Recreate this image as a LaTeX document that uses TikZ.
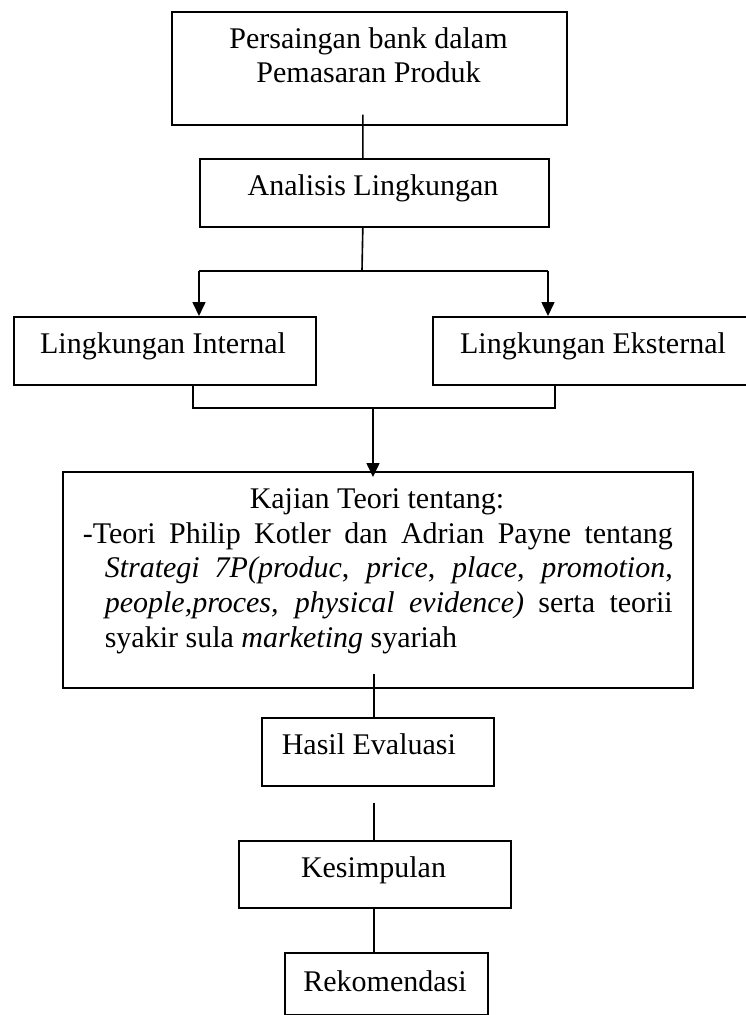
\documentclass[tikz,border=0pt]{standalone}
\usepackage{fontspec}
\setmainfont{Liberation Serif}
\usetikzlibrary{arrows.meta,calc}
\begin{document}
\begin{tikzpicture}[x=0.4pt,y=-0.4pt,line width=0.65pt,
  box/.style={draw,rectangle,inner sep=0pt,anchor=north west},
  lbl/.style={inner sep=0pt,anchor=base,font=\fontsize{12pt}{13.9pt}\selectfont},
  arr/.style={-{Triangle[width=5.2pt,length=5.6pt]}}]
\useasboundingbox (0,0) rectangle (746,1015);

% boxes
\node[box,minimum width=158pt,minimum height=45.2pt]   (b1) at (171,11)  {};
\node[box,minimum width=139.6pt,minimum height=27.2pt] (b2) at (199,158) {};
\node[box,minimum width=120.8pt,minimum height=27.2pt] (bi) at (13,316)  {};
\node[box,minimum width=126.4pt,minimum height=27.2pt] (be) at (432,316) {};
\node[box,minimum width=252pt,minimum height=86.4pt]   (kj) at (62,471)  {};
\node[box,minimum width=92.8pt,minimum height=27.2pt]  (he) at (261,717) {};
\node[box,minimum width=108.8pt,minimum height=26.8pt] (ks) at (238,840) {};
\node[box,minimum width=81.2pt,minimum height=24.8pt]  (rk) at (284,952) {};

% labels
\node[lbl] (t1a) at (368.5,48) {Persaingan bank dalam};
\node[lbl] (t1b) at (368.5,82) {Pemasaran Produk};
\node[lbl] (t2)  at (373,195)  {Analisis Lingkungan};
\node[lbl] (ti)  at (163,353)  {Lingkungan Internal};
\node[lbl] (te)  at (593,353)  {Lingkungan Eksternal};
\node[lbl] (tk)  at (377,508)  {Kajian Teori tentang:};
\node[lbl,anchor=base west,text width=236pt,align=justify] (tp) at (82,543)
  {\noindent\hangindent=8.8pt\hangafter=1 -Teori Philip Kotler dan Adrian Payne tentang\linebreak
   \textit{Strategi 7P(produc}, \textit{price}, \textit{place}, \textit{promotion},\linebreak
   \textit{people,proces, physical evidence)} serta teorii\linebreak
   syakir sula \textit{marketing} syariah\par};
\node[lbl,anchor=base west] (th) at (281,754) {Hasil Evaluasi};
\node[lbl] (ts) at (373.5,877) {Kesimpulan};
\node[lbl] (tr) at (385,991)   {Rekomendasi};

% connectors
\draw ($(b1.south)+(-6.5,-11)$) -- ($(b2.north)+(-11.5,0)$);

\coordinate (fk) at (362,271);
\coordinate (fl) at (199,271);
\coordinate (fr) at (548,271);
\draw ($(b2.south)+(-11.5,0)$) -- (fk);
\draw (fl) -- (fr);
\draw[arr] (fl) -- (fl |- bi.north);
\draw[arr] (fr) -- (fr |- be.north);

\coordinate (ml) at (193,408);
\coordinate (mr) at (555,408);
\coordinate (mc) at (373,408);
\draw (ml |- bi.south) -- (ml) -- (mr) -- (mr |- be.south);
\draw[arr] (mc) -- ($(mc |- kj.north)+(0,6)$);

% lower column of links
\coordinate (col) at (374,0);
\draw ($(col |- kj.south)+(0,-15)$) -- (col |- he.north);
\draw ($(col |- he.south)+(0,16)$) -- (col |- ks.north);
\draw (col |- ks.south) -- (col |- rk.north);
\end{tikzpicture}
\end{document}
